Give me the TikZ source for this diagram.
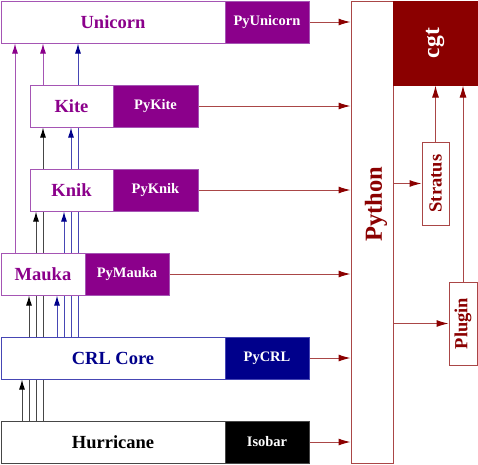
\documentclass[tikz,border=0pt]{standalone}
\usepackage{fontspec}
\setmainfont{Liberation Serif}
\usetikzlibrary{arrows.meta,backgrounds}
\definecolor{mpurple}{RGB}{139,0,139}
\definecolor{lpurple}{RGB}{165,85,180}
\definecolor{mblue}{RGB}{0,0,139}
\definecolor{lblue}{RGB}{70,70,180}
\definecolor{mred}{RGB}{139,0,0}
\definecolor{lred}{RGB}{170,70,70}
\definecolor{lgray}{RGB}{70,70,70}
\begin{document}
\begin{tikzpicture}[x=1pt,y=-1pt,
  bigtxt/.style={font=\fontsize{18.5}{20}\selectfont\bfseries},
  smalltxt/.style={font=\fontsize{14.5}{16}\selectfont\bfseries},
  libbox/.style={draw, fill=white, inner sep=0pt, line width=1pt, bigtxt},
  pybox/.style={draw, inner sep=0pt, line width=1pt, text=white, smalltxt},
  redbox/.style={draw=lred, fill=white, inner sep=0pt, line width=1pt, text=mred, bigtxt},
  parr/.style={draw=lpurple, line width=1pt, -{Latex[length=10pt,width=6pt,color=mpurple]}},
  barr/.style={draw=lblue, line width=1pt, -{Latex[length=10pt,width=6pt,color=mblue]}},
  karr/.style={draw=lgray, line width=1pt, -{Latex[length=10pt,width=6pt,color=black]}},
  rarr/.style={draw=lred, line width=1pt, -{Latex[length=12pt,width=7pt,color=mred]}}
]
\useasboundingbox (0,0) rectangle (478,464);

% library boxes
\node[libbox, draw=lpurple, text=mpurple, minimum width=224, minimum height=42] (uni) at (113,22) {Unicorn};
\node[pybox, draw=lpurple, fill=mpurple, minimum width=84, minimum height=42] (pyuni) at (267,22) {PyUnicorn};
\node[libbox, draw=lpurple, text=mpurple, minimum width=83, minimum height=42] (kite) at (71.5,106) {Kite};
\node[pybox, draw=lpurple, fill=mpurple, minimum width=85, minimum height=42] (pykite) at (155.5,106) {PyKite};
\node[libbox, draw=lpurple, text=mpurple, minimum width=83, minimum height=42] (knik) at (71.5,190) {Knik};
\node[pybox, draw=lpurple, fill=mpurple, minimum width=85, minimum height=42] (pyknik) at (155.5,190) {PyKnik};
\node[libbox, draw=lpurple, text=mpurple, minimum width=84, minimum height=42] (mauka) at (43,274) {Mauka};
\node[pybox, draw=lpurple, fill=mpurple, minimum width=84, minimum height=42] (pymauka) at (127,274) {PyMauka};
\node[libbox, draw=lblue, text=mblue, minimum width=224, minimum height=42] (crl) at (113,358) {CRL Core};
\node[pybox, draw=lblue, fill=mblue, minimum width=84, minimum height=42] (pycrl) at (267,358) {PyCRL};
\node[libbox, draw=lgray, text=black, minimum width=224, minimum height=42] (hur) at (113,442) {Hurricane};
\node[pybox, draw=lgray, fill=black, minimum width=84, minimum height=42] (isobar) at (267,442) {Isobar};

% right side
\node[redbox, minimum width=42, minimum height=462] (python) at (372,232) {};
\node[text=mred, inner sep=0pt, font=\fontsize{24.5}{26}\selectfont\bfseries] (pytext) at (376,204.5) {\rotatebox{90}{Python}};
\node[draw=mred, fill=mred, inner sep=0pt, line width=1pt, text=white, minimum width=84, minimum height=84, font=\fontsize{23.5}{25}\selectfont\bfseries] (cgt) at (435,43) {\rotatebox{90}{cgt}};
\node[redbox, minimum width=27, minimum height=83] (stratus) at (435.5,183.5) {\rotatebox{90}{Stratus}};
\node[redbox, minimum width=28, minimum height=83] (plugin) at (463,323.5) {\rotatebox{90}{Plugin}};

\coordinate (x15) at (15,0);
\coordinate (x22) at (22,0);
\coordinate (x29) at (29,0);
\coordinate (x36) at (36,0);
\coordinate (x43) at (43,0);
\coordinate (x57) at (57,0);
\coordinate (x64) at (64,0);
\coordinate (x71) at (71,0);
\coordinate (x78) at (78,0);

\begin{scope}[on background layer]
  % from Hurricane
  \draw[karr] (x22 |- hur.north) -- (x22 |- crl.south);
  \draw[karr] (x29 |- hur.north) -- (x29 |- mauka.south);
  \draw[karr] (x36 |- hur.north) -- (x36 |- knik.south);
  \draw[karr] (x43 |- hur.north) -- (x43 |- kite.south);
  % from CRL Core
  \draw[barr] (x57 |- crl.north) -- (x57 |- mauka.south);
  \draw[barr] (x64 |- crl.north) -- (x64 |- knik.south);
  \draw[barr] (x71 |- crl.north) -- (x71 |- kite.south);
  \draw[barr] (x78 |- crl.north) -- (x78 |- uni.south);
  % purple
  \draw[parr] (x15 |- mauka.north) -- (x15 |- uni.south);
  \draw[parr] (x43 |- kite.north) -- (x43 |- uni.south);
\end{scope}

% to Python
\draw[rarr] (pyuni.east) -- (pyuni.east -| python.west);
\draw[rarr] (pykite.east) -- (pykite.east -| python.west);
\draw[rarr] (pyknik.east) -- (pyknik.east -| python.west);
\draw[rarr] (pymauka.east) -- (pymauka.east -| python.west);
\draw[rarr] (pycrl.east) -- (pycrl.east -| python.west);
\draw[rarr] (isobar.east) -- (isobar.east -| python.west);
% python to stratus / plugin
\draw[rarr] (stratus.west -| python.east) -- (stratus.west);
\draw[rarr] (plugin.west -| python.east) -- (plugin.west);
% to cgt
\draw[rarr] (stratus.north) -- (stratus.north |- cgt.south);
\draw[rarr] (plugin.north) -- (plugin.north |- cgt.south);
\end{tikzpicture}
\end{document}
